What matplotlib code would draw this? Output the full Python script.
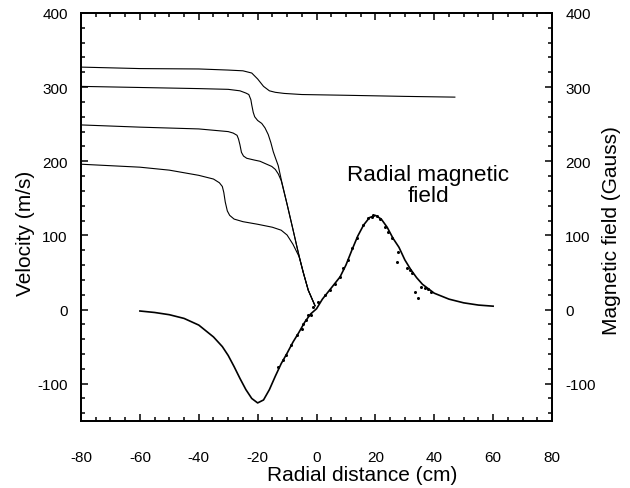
import numpy as np
import matplotlib
matplotlib.use("Agg")
import matplotlib.pyplot as plt
from matplotlib.ticker import MultipleLocator

plt.rcParams['font.family'] = ['Liberation Sans', 'DejaVu Sans']
plt.rcParams['axes.unicode_minus'] = False

# velocity profiles (m/s) vs radial distance (cm)
x_v1 = [-80, -60, -40, -30, -25, -22, -20, -18, -16, -14, -11, -5, 10, 30, 47]
v1 = [327, 325, 324.5, 323, 322, 319, 311, 301, 295, 293, 291.5, 290, 289, 287.5, 286.5]

x_v2 = [-80, -60, -40, -30, -26, -24, -23, -22.3, -22, -21.5, -21, -20, -18.6, -17.5,
        -16.4, -15.5, -14.7, -14, -13, -11.8, -10, -8, -6.5, -5.6, -4.5, -2.8, -0.5]
v2 = [301, 299.5, 298, 297, 295, 292, 290, 283, 276, 266, 260, 255, 251, 245,
      236, 225, 213, 205, 194, 172, 142, 108, 82, 67, 50, 26, 5]

x_v3 = [-80, -60, -40, -30, -28.3, -27, -26.5, -26, -25.5, -24.8, -23.7, -21, -19.2,
        -17.5, -15.2, -14, -13, -12, -11.8, -10, -8, -6.5, -5.6, -4.5, -2.8, -0.5]
v3 = [249, 246, 243.6, 240, 238, 235, 230, 222, 212, 207, 204, 201.5, 200,
      197, 193, 189, 183, 174, 171, 142, 108, 82, 67, 50, 26, 5]

x_v4 = [-80, -70, -60, -50, -40, -35, -33, -32, -31.5, -31, -30.3, -29.5, -28, -25,
        -20, -15, -12, -10, -8, -7, -6, -5.6, -4.5, -2.8, -0.5]
v4 = [196, 194, 192, 188, 181, 176, 171, 166, 158, 145, 133, 127, 122, 118.5,
      115, 111, 107, 100.5, 88, 80, 72, 67, 50, 26, 5]

# radial magnetic field (Gauss): fitted curve and measured points
x_b = [-60, -55, -50, -45, -40, -35, -32, -30, -28, -26, -24, -22, -20, -18, -16, -14,
       -12, -10, -8, -6, -4, -2, 0, 2, 4, 6, 8, 10, 12, 14, 16, 18, 20, 22, 24, 26,
       28, 30, 32, 34, 36, 40, 45, 50, 55, 60]
b = [-2, -4, -7, -12, -21, -37, -50, -62, -77, -93, -108, -120, -126, -122, -108, -90,
     -73, -59, -44, -31, -17, -6, 1, 14, 24, 34, 44, 60, 80, 99, 114, 124, 127, 122, 111, 96,
     84, 67, 54, 43, 34, 22, 14, 9, 6, 4.5]

x_pts = [-13, -11.5, -10.4, -8.7, -6.7, -5, -3.6, -2, -4.5, -2.8, -1.1, 0.6, 2.9, 4.6,
         6.3, 8, 9.1, 10.8, 11.9, 13.6, 15.9, 17.6, 19.3, 18.75, 20.4, 21.6, 23.3, 24.4,
         25.5, 27.2, 27.8, 30.6, 31.7, 32.3, 33.5, 34.6, 35.6, 36.9, 38, 38.8]
b_pts = [-77, -68.5, -62, -48, -34.7, -25.7, -14.4, -6.8, -19, -7.7, 3.6, 10.4, 19.4, 26,
         35, 44, 55.4, 66.6, 82.4, 96, 114, 124, 127, 125, 126.6, 122, 111.7, 105,
         96, 64.4, 78, 55.4, 53, 48.6, 24, 15, 30.7, 29, 27.5, 24]

fig = plt.figure(figsize=(6.3, 4.89), dpi=100)
ax = fig.add_axes([0.1286, 0.1376, 0.7476, 0.8338])
ax2 = ax.twinx()

for xs, vs in [(x_v1, v1), (x_v2, v2), (x_v3, v3), (x_v4, v4)]:
    ax.plot(xs, vs, color='black', lw=0.8)

ax2.plot(x_b, b, color='black', lw=1.2)
ax2.plot(x_pts, b_pts, 'o', color='black', ms=2.2, mec='none')

for a in (ax, ax2):
    a.set_xlim(-80, 80)
    a.set_ylim(-150, 400)
    a.yaxis.set_major_locator(MultipleLocator(100))
    a.yaxis.set_minor_locator(MultipleLocator(20))
    for s in a.spines.values():
        s.set_linewidth(1.3)

ax.xaxis.set_major_locator(MultipleLocator(20))
ax.xaxis.set_minor_locator(MultipleLocator(5))
ax.tick_params(axis='x', which='both', direction='in', top=True, bottom=True)
ax.tick_params(axis='x', which='major', length=5, width=1.1, pad=21, labelsize=11)
ax.tick_params(axis='x', which='minor', length=2.8, width=1.1)
ax.tick_params(axis='y', which='both', direction='in', left=True, right=False)
ax.tick_params(axis='y', which='major', length=5, width=1.1, pad=9.5, labelsize=11)
ax.tick_params(axis='y', which='minor', length=2.8, width=1.1)
ax2.tick_params(axis='y', which='both', direction='in', right=True)
ax2.tick_params(axis='y', which='major', length=5, width=1.1, pad=9.5, labelsize=11)
ax2.tick_params(axis='y', which='minor', length=2.8, width=1.1)

ax.set_xlabel('Radial distance (cm)', fontsize=15, va='center')
ax.xaxis.set_label_coords(0.597, -0.131)
ax.set_ylabel('Velocity (m/s)', fontsize=15, va='center')
ax.yaxis.set_label_coords(-0.117, 0.463)
ax2.set_ylabel('Magnetic field (Gauss)', fontsize=15, va='center')
ax2.yaxis.set_label_coords(1.126, 0.468)

ax.text(38, 168, 'Radial magnetic\nfield', fontsize=16.2, ha='center', va='center',
        linespacing=1.05)

fig.savefig('out.png', dpi=100)
